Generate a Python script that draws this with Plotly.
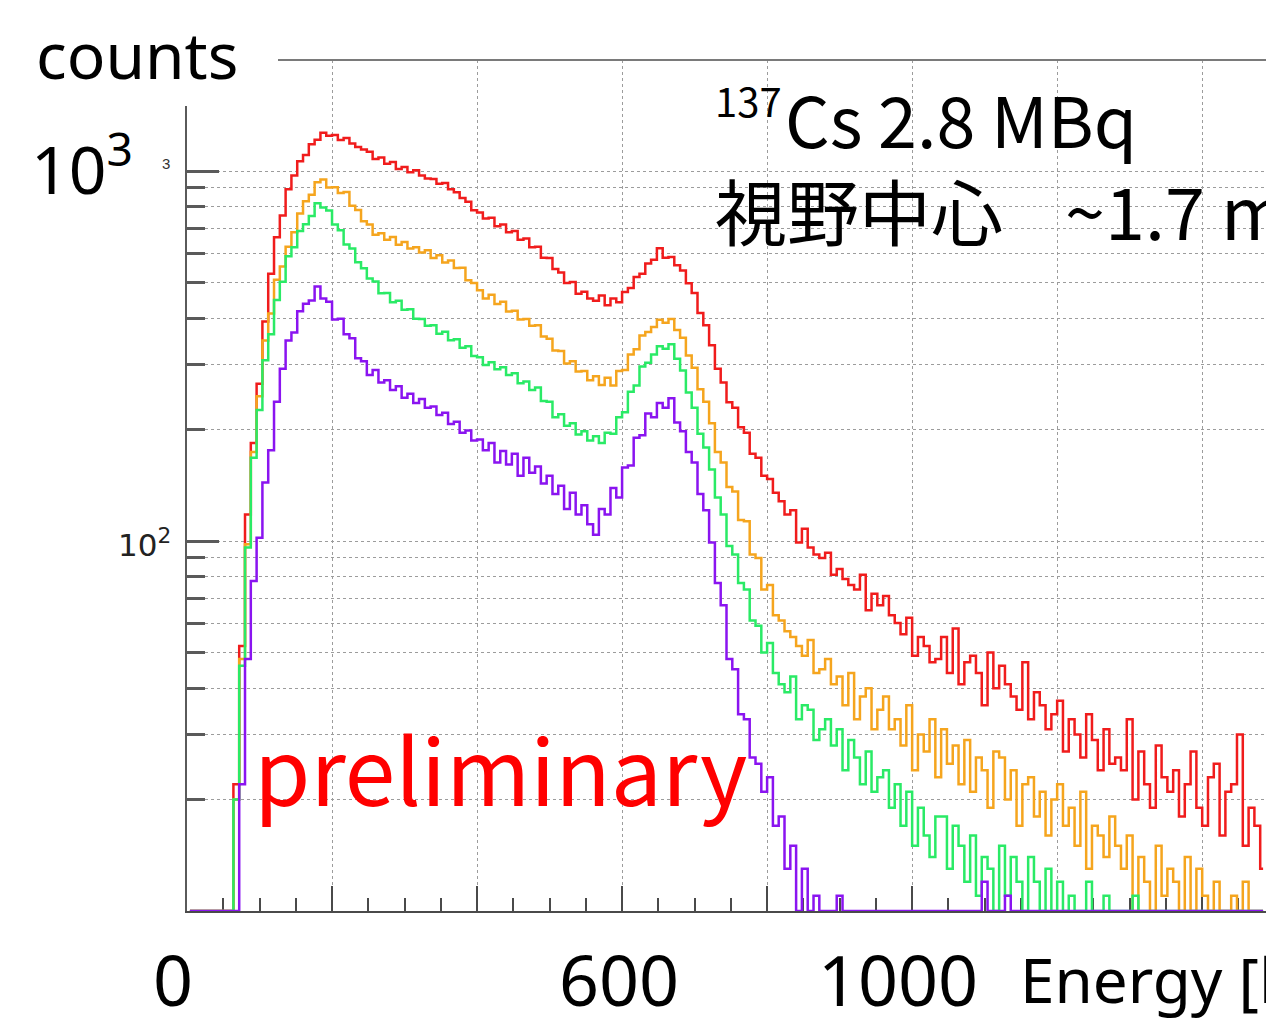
import numpy as np
import plotly.graph_objects as go

# ---------------------------------------------------------------------------
# Energy spectra: counts per 8 keV bin, bin centres 4 ... 1484 keV
# ---------------------------------------------------------------------------
BIN_KEV = 8
N_BINS = 186
energy_keV = np.arange(N_BINS) * BIN_KEV + BIN_KEV / 2

counts_red = [
    0, 0, 0, 0, 0, 0, 0, 6, 22, 52,
    118, 184, 266, 392, 528, 662, 758, 893, 972, 1062,
    1104, 1182, 1214, 1268, 1246, 1252, 1212, 1228, 1186, 1161,
    1143, 1128, 1078, 1088, 1046, 1057, 1013, 1026, 992, 1004,
    972, 954, 951, 924, 928, 893, 876, 845, 826, 783,
    772, 744, 748, 709, 717, 683, 688, 652, 657, 622,
    624, 583, 582, 543, 532, 498, 501, 466, 472, 452,
    446, 461, 434, 452, 442, 471, 483, 517, 528, 562,
    576, 618, 583, 586, 556, 538, 497, 468, 413, 383,
    338, 292, 268, 237, 229, 203, 196, 172, 168, 150,
    147, 135, 128, 118, 121, 99, 108, 96, 92, 90,
    93, 81, 84, 79, 76, 74, 81, 65, 72, 67,
    71, 63, 60, 56, 62, 49, 55, 52, 47, 48,
    55, 44, 58, 41, 47, 49, 44, 36, 50, 40,
    46, 41, 38, 35, 47, 33, 39, 36, 31, 34,
    37, 27, 33, 30, 26, 34, 29, 24, 31, 25,
    26, 24, 33, 20, 27, 22, 19, 28, 23, 21,
    24, 18, 22, 27, 19, 17, 23, 25, 16, 21,
    22, 30, 15, 19, 17, 13,
]

counts_orange = [
    0, 0, 0, 0, 0, 0, 0, 5, 20, 48,
    98, 174, 246, 348, 412, 508, 552, 624, 683, 768,
    828, 862, 932, 948, 902, 904, 872, 878, 806, 784,
    731, 717, 672, 679, 652, 663, 632, 643, 617, 622,
    602, 611, 582, 592, 566, 573, 547, 548, 507, 498,
    476, 452, 463, 437, 443, 417, 419, 397, 398, 382,
    383, 357, 352, 327, 326, 302, 306, 287, 288, 272,
    279, 264, 276, 263, 288, 290, 319, 330, 359, 367,
    379, 396, 389, 398, 372, 354, 317, 294, 257, 238,
    208, 174, 163, 140, 136, 114, 113, 92, 90, 74,
    76, 63, 61, 57, 55, 52, 49, 54, 44, 45,
    48, 41, 43, 36, 44, 33, 38, 40, 31, 35,
    38, 31, 33, 28, 36, 24, 30, 27, 33, 23,
    31, 25, 28, 22, 29, 21, 26, 24, 19, 27,
    26, 20, 24, 17, 22, 23, 18, 21, 16, 20,
    22, 17, 19, 15, 21, 13, 17, 16, 14, 18,
    15, 13, 16, 10, 14, 12, 9, 15, 11, 13,
    12, 9, 14, 8, 13, 11, 7, 12, 10, 8,
    11, 9, 12, 7, 10, 8,
]

counts_green = [
    0, 0, 0, 0, 0, 0, 0, 5, 20, 46,
    96, 168, 226, 308, 362, 448, 502, 588, 622, 688,
    718, 756, 818, 797, 782, 717, 692, 633, 617, 567,
    546, 512, 503, 467, 468, 442, 446, 422, 423, 399,
    398, 382, 383, 363, 368, 349, 351, 333, 336, 316,
    314, 299, 304, 291, 295, 281, 284, 267, 270, 256,
    260, 239, 238, 216, 220, 205, 208, 194, 198, 187,
    192, 184, 196, 195, 216, 223, 253, 263, 296, 303,
    319, 336, 331, 340, 311, 289, 252, 229, 195, 179,
    156, 131, 118, 97, 92, 77, 74, 61, 59, 50,
    53, 44, 41, 39, 43, 33, 36, 35, 29, 31,
    33, 28, 31, 24, 29, 26, 22, 27, 21, 23,
    24, 19, 22, 17, 21, 15, 19, 16, 14, 18,
    18, 13, 17, 15, 12, 16, 11, 14, 13, 10,
    15, 11, 14, 12, 10, 14, 12, 9, 13, 10,
    12, 8, 11, 9, 10, 12, 7, 9, 11, 8,
    10, 7, 9, 11, 6, 8, 10, 5, 9, 7,
    9, 6, 8, 10, 5, 7, 9, 4, 8, 6,
    8, 5, 9, 6, 7, 4,
]

counts_purple = [
    0, 0, 0, 0, 0, 0, 0, 0, 9, 22,
    48, 78, 102, 144, 176, 238, 292, 348, 366, 418,
    438, 447, 487, 452, 443, 397, 399, 362, 353, 312,
    306, 281, 290, 268, 272, 256, 262, 244, 250, 236,
    242, 229, 231, 219, 222, 207, 210, 196, 199, 187,
    188, 176, 184, 163, 175, 161, 172, 150, 168, 153,
    159, 143, 150, 134, 141, 122, 135, 118, 125, 111,
    104, 122, 118, 139, 131, 158, 160, 190, 193, 221,
    216, 236, 229, 243, 209, 198, 174, 163, 134, 121,
    99, 77, 67, 48, 45, 34, 33, 26, 25, 21,
    23, 17, 18, 13, 15, 10, 13, 8, 11, 6,
    9, 5, 11, 4, 8, 6, 10, 3, 7, 4,
    6, 3, 9, 2, 5, 4, 8, 2, 5, 3,
    4, 2, 5, 1, 3, 2, 6, 12, 3, 2,
    2, 11, 3, 1, 4, 2, 1, 3, 0, 2,
    1, 0, 2, 0, 1, 0, 0, 1, 0, 0,
    0, 1, 0, 0, 2, 0, 1, 0, 0, 0,
    0, 0, 1, 0, 0, 0, 0, 1, 0, 0,
    0, 0, 0, 1, 0, 0,
]

for arr in (counts_red, counts_orange, counts_green, counts_purple):
    assert len(arr) == N_BINS

# drawing order: first listed is underneath
series = [
    ("red", counts_red, "#F01C1C"),
    ("orange", counts_orange, "#F5A51E"),
    ("green", counts_green, "#2AEA66"),
    ("purple", counts_purple, "#8A14F0"),
]

# axes
X_MAX = 1488
Y_FLOOR = 10          # bins below the axis floor are drawn on the floor
Y_LOG_RANGE = [1, 3.3]
x_major_ticks = list(range(0, 1401, 200))
x_tick_labels = [(0, "0", -14), (600, "600", -3), (1000, "1000", -14)]
y_major_ticks = [100, 1000]
y_minor_ticks = [20, 30, 40, 50, 60, 70, 80, 90, 200, 300, 400, 500, 600, 700, 800, 900]

# page geometry (pixels)
W, H = 1266, 1033
ML, MT, MR, MB = 187, 60, 0, 122
PW, PH = W - ML - MR, H - MT - MB


def px_x(x):
    return (x - ML) / PW


def px_y(y):
    return (H - MB - y) / PH


GRID = "#9c9c9c"
AXIS = "#4a4a4a"

fig = go.Figure()
for name, vals, color in series:
    fig.add_trace(go.Scatter(
        x=energy_keV,
        y=np.maximum(np.asarray(vals, dtype=float), Y_FLOOR),
        mode="lines",
        line=dict(color=color, width=2.5, shape="hvh"),
        name=name,
        showlegend=False,
        hoverinfo="skip",
    ))

fig.update_layout(
    width=W, height=H,
    margin=dict(l=ML, r=MR, t=MT, b=MB, autoexpand=False),
    paper_bgcolor="white",
    plot_bgcolor="white",
    showlegend=False,
    xaxis=dict(
        range=[0, X_MAX],
        tickmode="array", tickvals=x_major_ticks, showticklabels=False,
        ticks="inside", ticklen=25, tickwidth=2, tickcolor=AXIS,
        showgrid=True, gridcolor=GRID, griddash="dot", gridwidth=1,
        showline=True, linecolor=AXIS, linewidth=2, zeroline=False,
        layer="below traces",
        minor=dict(tickmode="linear", tick0=0, dtick=50, ticks="inside",
                   ticklen=13, tickwidth=2, tickcolor=AXIS, showgrid=False),
    ),
    yaxis=dict(
        type="log", range=Y_LOG_RANGE,
        tickmode="array", tickvals=y_major_ticks, showticklabels=False,
        ticks="inside", ticklen=32, tickwidth=3, tickcolor="#5a5a5a",
        showgrid=True, gridcolor=GRID, griddash="dot", gridwidth=1,
        showline=True, linecolor="#5a5a5a", linewidth=2, zeroline=False,
        layer="below traces",
        minor=dict(tickmode="array", tickvals=y_minor_ticks, ticks="inside",
                   ticklen=18, tickwidth=3, tickcolor="#5a5a5a",
                   showgrid=True, gridcolor=GRID, griddash="dot", gridwidth=1),
    ),
)

# frame: top edge, and the white text box over the top-left corner
fig.add_shape(type="line", xref="paper", yref="paper",
              x0=px_x(278), x1=1, y0=1, y1=1,
              line=dict(color="#7a7a7a", width=2), layer="above")
fig.add_shape(type="rect", xref="paper", yref="paper",
              x0=px_x(0), x1=px_x(278), y0=px_y(106), y1=px_y(0),
              fillcolor="white", line=dict(width=0), layer="above")


def text_at(text, x, y, size, family, color="black", xanchor="left"):
    fig.add_annotation(text=text, x=px_x(x), y=px_y(y), xref="paper", yref="paper",
                       showarrow=False, xanchor=xanchor, yanchor="middle",
                       font=dict(size=size, family=family, color=color))


SANS = "Noto Sans"
JP = "Noto Sans CJK JP"

# y axis title and decade labels
text_at("counts", 34, 55, 64, SANS)
fig.add_annotation(text="10<sup>3</sup>", x=0, y=3, xref="paper", yref="y",
                   xshift=-158, yshift=6, showarrow=False, xanchor="left", yanchor="middle",
                   font=dict(size=66, family=SANS, color="black"))
fig.add_annotation(text="3", x=0, y=3, xref="paper", yref="y",
                   xshift=-21, yshift=8, showarrow=False, xanchor="center", yanchor="middle",
                   font=dict(size=15, family="Liberation Sans", color="#333333"))
fig.add_annotation(text="10<sup>2</sup>", x=0, y=2, xref="paper", yref="y",
                   xshift=-14, yshift=-2, showarrow=False, xanchor="right", yanchor="middle",
                   font=dict(size=31, family="DejaVu Sans", color="#222222"))

# energy labels and title
for val, lab, shift in x_tick_labels:
    fig.add_annotation(text=lab, x=val, y=0, xref="x", yref="paper",
                       xshift=shift, yshift=-68, showarrow=False,
                       xanchor="center", yanchor="middle",
                       font=dict(size=70, family=SANS, color="black"))
text_at("Energy [keV]", 1018, 979, 62, SANS)

# source description
text_at("137", 713, 100, 40, JP)
text_at("Cs 2.8 MBq", 783, 117, 70, JP)
text_at("視野中心", 713, 209, 72, JP)
text_at("~1.7 m", 1063, 209, 72, JP)

text_at("preliminary", 252, 766, 91, JP, color="#FF0000")

fig.write_html("out.html")
